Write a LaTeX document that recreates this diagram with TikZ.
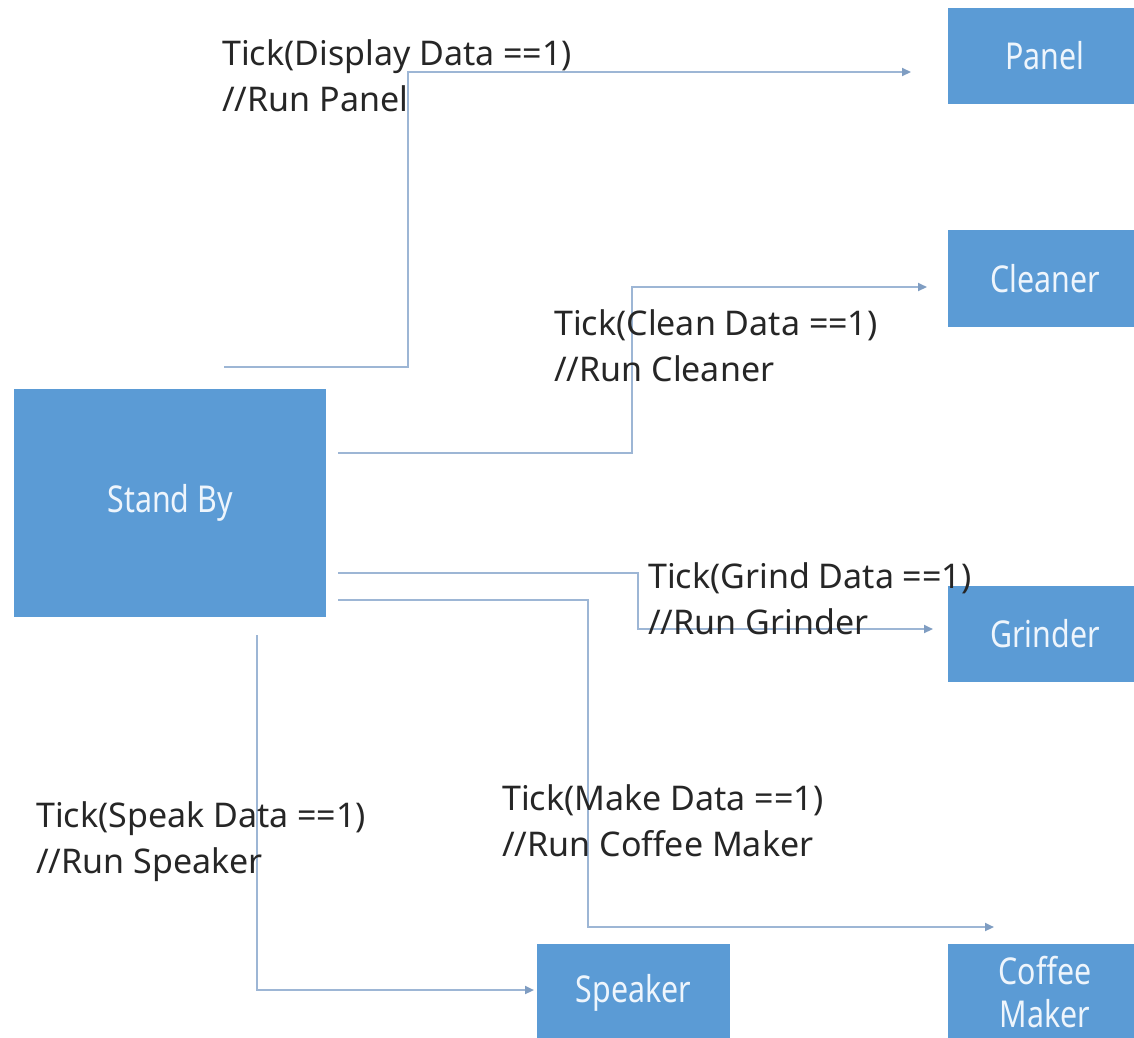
\documentclass[tikz,border=0pt]{standalone}
\usepackage{fontspec}
\setmainfont{Noto Sans}
\newfontfamily\boxfont[FakeStretch=0.82]{Noto Sans}
\usetikzlibrary{arrows.meta}

\definecolor{boxblue}{HTML}{5B9BD5}
\definecolor{boxtext}{HTML}{EEF5FC}
\definecolor{wire}{HTML}{9DB6D5}
\definecolor{tipcol}{HTML}{7F9DC2}

\tikzset{
  unitbox/.style={rectangle, fill=boxblue, draw=none, inner sep=0pt,
    text=boxtext, align=center, font=\boxfont\fontsize{37}{47}\selectfont},
  flow/.style={draw=wire, line width=2pt,
    -{Triangle[length=9pt,width=8pt,color=tipcol]}},
  plain/.style={draw=wire, line width=2pt},
  cond/.style={anchor=north west, inner sep=0pt, align=left,
    font=\fontsize{34}{46}\selectfont, text=black!85}
}

\begin{document}
\begin{tikzpicture}[x=1pt, y=-1pt]
\useasboundingbox (0,0) rectangle (1134,1037);
\clip (0,0) rectangle (1134,1037);

% state boxes
\node[unitbox, minimum width=312pt, minimum height=228pt] (standby) at (170,503) {Stand By};
\node[unitbox, minimum width=194pt, minimum height=96pt] (panel) at (1045,56) {Panel};
\node[unitbox, minimum width=194pt, minimum height=97pt] (cleaner) at (1045,278.5) {Cleaner};
\node[unitbox, minimum width=194pt, minimum height=96pt] (grinder) at (1045,634) {Grinder};
\node[unitbox, minimum width=193pt, minimum height=97pt] (speaker) at (633.5,992.5) {Speaker};
\node[unitbox, minimum width=194pt, minimum height=97pt] (coffee) at (1045,992.5) {Coffee\\[-4pt]Maker};

% connector ends
\coordinate (panelOut) at (224,367);
\coordinate (panelIn) at (911,72);
\coordinate (cleanOut) at (338,453);
\coordinate (cleanIn) at (927,287);
\coordinate (grindOut) at (338,573);
\coordinate (grindIn) at (933,629);
\coordinate (makeOut) at (338,600);
\coordinate (makeIn) at (994,927);
\coordinate (speakOut) at (257,635);
\coordinate (speakIn) at (534,990);

% transitions
\draw[flow] (panelOut) -- ++(184,0) |- (panelIn);
\draw[flow] (cleanOut) -- ++(294,0) |- (cleanIn);
\draw[flow] (grindOut) -- ++(300,0) |- (grindIn);
\draw[flow] (makeOut) -- ++(250,0) |- (makeIn);
\draw[flow] (speakOut) |- (speakIn);

% transition conditions
\node[cond] (lblPanel) at (222,39) {Tick(Display Data ==1)\\//Run Panel};
\node[cond] (lblClean) at (554,309) {Tick(Clean Data ==1)\\//Run Cleaner};
\node[cond] (lblGrind) at (648,562) {Tick(Grind Data ==1)\\//Run Grinder};
\node[cond] (lblSpeak) at (36,801) {Tick(Speak Data ==1)\\//Run Speaker};
\node[cond] (lblMake) at (502,784) {Tick(Make Data ==1)\\//Run Coffee Maker};
\end{tikzpicture}
\end{document}
